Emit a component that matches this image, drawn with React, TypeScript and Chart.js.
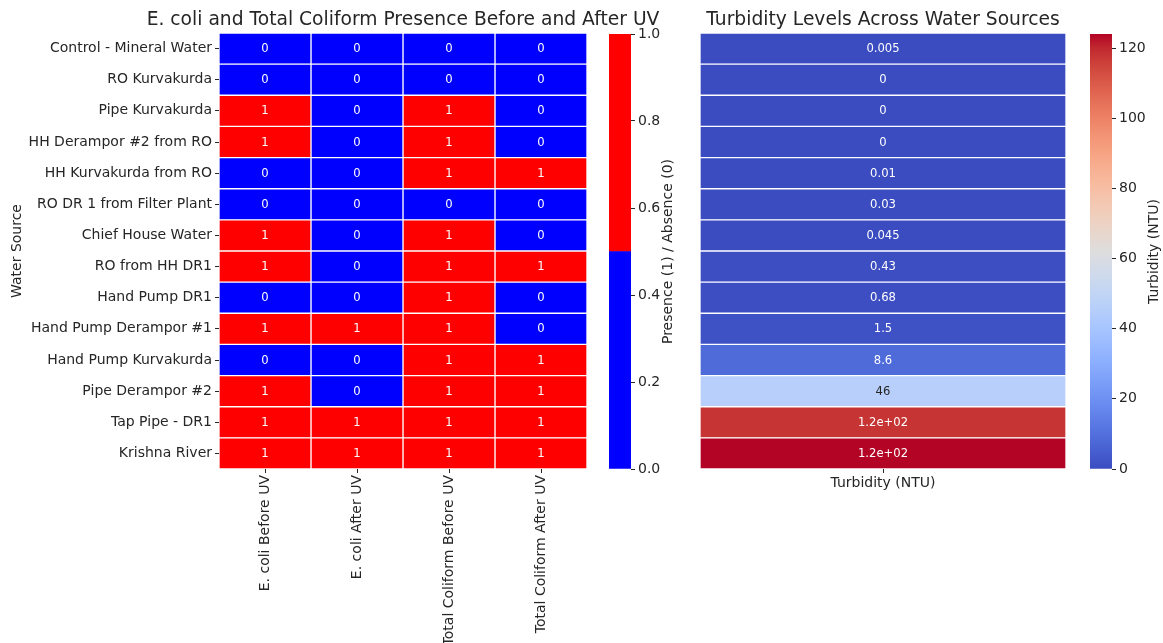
import React, { useEffect, useRef } from 'react';
import { Chart, registerables } from 'chart.js';

Chart.register(...registerables);

// ---------- data ----------
const sources = [
  'Control - Mineral Water',
  'RO Kurvakurda',
  'Pipe Kurvakurda',
  'HH Derampor #2 from RO',
  'HH Kurvakurda from RO',
  'RO DR 1 from Filter Plant',
  'Chief House Water',
  'RO from HH DR1',
  'Hand Pump DR1',
  'Hand Pump Derampor #1',
  'Hand Pump Kurvakurda',
  'Pipe Derampor #2',
  'Tap Pipe - DR1',
  'Krishna River',
];
const testColumns = ['E. coli Before UV', 'E. coli After UV', 'Total Coliform Before UV', 'Total Coliform After UV'];
const ecoliBefore = [0, 0, 1, 1, 0, 0, 1, 1, 0, 1, 0, 1, 1, 1];
const ecoliAfter = [0, 0, 0, 0, 0, 0, 0, 0, 0, 1, 0, 0, 1, 1];
const coliformBefore = [0, 0, 1, 1, 1, 0, 1, 1, 1, 1, 1, 1, 1, 1];
const coliformAfter = [0, 0, 0, 0, 1, 0, 0, 1, 0, 0, 1, 1, 1, 1];
const turbidity = [0.005, 0, 0, 0, 0.01, 0.03, 0.045, 0.43, 0.68, 1.5, 8.6, 46, 118, 124];
const turbidityLabel = 'Turbidity (NTU)';
const presenceTicks = [0, 0.2, 0.4, 0.6, 0.8, 1.0];
const turbidityTicks = [0, 20, 40, 60, 80, 100, 120];

const titleLeft = 'E. coli and Total Coliform Presence Before and After UV';
const titleRight = 'Turbidity Levels Across Water Sources';
const presenceCbarLabel = 'Presence (1) / Absence (0)';
const yAxisTitle = 'Water Source';

// ---------- style ----------
const FONT = 'DejaVu Sans';
const TEXT = '#262626';
const BLUE = '#0000ff';
const RED = '#ff0000';
const TITLE_SIZE = 18.7;
const TICK_SIZE = 14;
const CELL_SIZE = 11.6;
const COOLWARM: [number, number, number][] = [
  [59, 76, 192], [68, 90, 204], [77, 104, 215], [87, 117, 225], [98, 130, 234], [108, 142, 241],
  [119, 154, 247], [130, 165, 251], [141, 176, 254], [152, 185, 255], [163, 194, 255], [174, 201, 253],
  [184, 208, 249], [194, 213, 244], [204, 217, 238], [213, 219, 230], [221, 221, 221], [229, 216, 209],
  [236, 211, 197], [241, 204, 184], [245, 196, 172], [247, 187, 159], [247, 177, 147], [247, 166, 134],
  [244, 154, 123], [241, 141, 111], [236, 127, 99], [229, 112, 88], [222, 96, 77], [213, 80, 66],
  [203, 62, 56], [192, 40, 47], [180, 4, 38],
];

function coolwarm(t: number): [number, number, number] {
  const x = Math.max(0, Math.min(1, t)) * (COOLWARM.length - 1);
  const i = Math.min(Math.floor(x), COOLWARM.length - 2);
  const f = x - i;
  const a = COOLWARM[i], b = COOLWARM[i + 1];
  return [0, 1, 2].map((k) => Math.round(a[k] + (b[k] - a[k]) * f)) as [number, number, number];
}
const rgb = (c: [number, number, number]) => `rgb(${c[0]},${c[1]},${c[2]})`;
function luminance(c: [number, number, number]) {
  const lin = c.map((v) => {
    const s = v / 255;
    return s <= 0.03928 ? s / 12.92 : Math.pow((s + 0.055) / 1.055, 2.4);
  });
  return 0.2126 * lin[0] + 0.7152 * lin[1] + 0.0722 * lin[2];
}
function fmtG2(v: number): string {
  if (v === 0) return '0';
  const e = Math.floor(Math.log10(Math.abs(v)));
  if (e < -4 || e >= 2) {
    const s = v.toExponential(1);
    return s.replace(/e([+-])(\d)$/, 'e$10$2');
  }
  return String(parseFloat(v.toPrecision(2)));
}

const cellTextPlugin = {
  id: 'cellText',
  afterDatasetsDraw(chart: any) {
    const ctx = chart.ctx;
    ctx.save();
    ctx.font = `${CELL_SIZE}px "${FONT}"`;
    ctx.textAlign = 'center';
    ctx.textBaseline = 'middle';
    chart.data.datasets.forEach((ds: any, i: number) => {
      if (!ds.cellText) return;
      const meta = chart.getDatasetMeta(i);
      meta.data.forEach((el: any, j: number) => {
        const p = el.getCenterPoint();
        ctx.fillStyle = ds.textColor[j];
        ctx.fillText(ds.cellText[j], p.x, p.y + 0.5);
      });
    });
    ctx.restore();
  },
};

const makeTitlePlugin = (text: string) => ({
  id: 'topTitle',
  afterDraw(chart: any) {
    const { ctx, chartArea } = chart;
    ctx.save();
    ctx.font = `${TITLE_SIZE}px "${FONT}"`;
    ctx.fillStyle = TEXT;
    ctx.textAlign = 'center';
    ctx.textBaseline = 'middle';
    ctx.fillText(text, (chartArea.left + chartArea.right) / 2, 20);
    ctx.restore();
  },
});

const makeSideLabelPlugin = (text: string, offset: number) => ({
  id: 'sideLabel',
  afterDraw(chart: any) {
    const { ctx, chartArea } = chart;
    ctx.save();
    ctx.font = `${TICK_SIZE}px "${FONT}"`;
    ctx.fillStyle = TEXT;
    ctx.textAlign = 'center';
    ctx.textBaseline = 'middle';
    ctx.translate(chartArea.right + offset, (chartArea.top + chartArea.bottom) / 2);
    ctx.rotate(-Math.PI / 2);
    ctx.fillText(text, 0, 0);
    ctx.restore();
  },
});

const tickFont = { family: FONT, size: TICK_SIZE };
const tickGrid = { drawOnChartArea: false, tickLength: 4, color: TEXT, offset: false };

function useChart(ref: React.RefObject<HTMLCanvasElement>, build: () => any) {
  useEffect(() => {
    if (!ref.current) return;
    const chart = new Chart(ref.current, build());
    return () => chart.destroy();
  }, []);
}

export default function App() {
  const c1 = useRef<HTMLCanvasElement>(null);
  const c2 = useRef<HTMLCanvasElement>(null);
  const c3 = useRef<HTMLCanvasElement>(null);
  const c4 = useRef<HTMLCanvasElement>(null);

  const presence = [ecoliBefore, ecoliAfter, coliformBefore, coliformAfter];
  const turbMax = Math.max(...turbidity);

  useChart(c1, () => ({
    type: 'bar',
    data: {
      labels: sources,
      datasets: testColumns.map((name, c) => ({
        label: name,
        data: sources.map(() => [c, c + 1]),
        backgroundColor: presence[c].map((v) => (v ? RED : BLUE)),
        borderColor: '#ffffff',
        borderWidth: 1,
        borderSkipped: false,
        grouped: false,
        barPercentage: 1,
        categoryPercentage: 1,
        cellText: presence[c].map((v) => String(v)),
        textColor: presence[c].map(() => '#ffffff'),
      })),
    },
    options: {
      indexAxis: 'y',
      animation: false,
      responsive: false,
      layout: { padding: { top: 33, right: 113, left: 0, bottom: 0 } },
      plugins: { legend: { display: false }, tooltip: { enabled: false } },
      scales: {
        x: { type: 'linear', min: 0, max: testColumns.length, display: false },
        xc: {
          type: 'category',
          axis: 'x',
          labels: testColumns,
          position: 'bottom',
          offset: true,
          grid: tickGrid,
          border: { display: false },
          ticks: { minRotation: 90, maxRotation: 90, autoSkip: false, padding: 2, font: tickFont, color: TEXT },
          afterFit: (s: any) => { s.height = 174; },
        },
        y: {
          type: 'category',
          offset: true,
          grid: tickGrid,
          border: { display: false },
          ticks: { autoSkip: false, padding: 3, font: tickFont, color: TEXT },
          title: { display: true, text: yAxisTitle, font: tickFont, color: TEXT, padding: { top: 9, bottom: 4 } },
          afterFit: (s: any) => { s.width = 219; },
        },
      },
    },
    plugins: [cellTextPlugin, makeTitlePlugin(titleLeft)],
  }));

  useChart(c2, () => ({
    type: 'bar',
    data: {
      labels: [''],
      datasets: [
        { data: [[0, 0.5]], backgroundColor: BLUE },
        { data: [[0.5, 1]], backgroundColor: RED },
      ].map((d) => ({ ...d, grouped: false, barPercentage: 1, categoryPercentage: 1, borderWidth: 0 })),
    },
    options: {
      animation: false,
      responsive: false,
      layout: { padding: { top: 34, right: 0, left: 9, bottom: 174 } },
      plugins: { legend: { display: false }, tooltip: { enabled: false } },
      scales: {
        x: { display: false },
        y: {
          position: 'right',
          min: 0,
          max: 1,
          afterBuildTicks: (s: any) => { s.ticks = presenceTicks.map((v) => ({ value: v })); },
          grid: tickGrid,
          border: { display: false },
          ticks: { padding: 3, font: tickFont, color: TEXT, callback: (v: any) => Number(v).toFixed(1) },
          afterFit: (s: any) => { s.width = 69; },
        },
      },
    },
    plugins: [makeSideLabelPlugin(presenceCbarLabel, 37)],
  }));

  useChart(c3, () => {
    const cols = turbidity.map((v) => coolwarm(v / turbMax));
    return {
      type: 'bar',
      data: {
        labels: sources,
        datasets: [
          {
            label: turbidityLabel,
            data: sources.map(() => [0, 1]),
            backgroundColor: cols.map(rgb),
            borderColor: '#ffffff',
            borderWidth: 1,
            borderSkipped: false,
            grouped: false,
            barPercentage: 1,
            categoryPercentage: 1,
            cellText: turbidity.map(fmtG2),
            textColor: cols.map((c) => (luminance(c) > 0.408 ? TEXT : '#ffffff')),
          },
        ],
      },
      options: {
        indexAxis: 'y',
        animation: false,
        responsive: false,
        layout: { padding: { top: 33, right: 14, left: 0, bottom: 0 } },
        plugins: { legend: { display: false }, tooltip: { enabled: false } },
        scales: {
          x: { type: 'linear', min: 0, max: 1, display: false },
          xc: {
            type: 'category',
            axis: 'x',
            labels: [turbidityLabel],
            position: 'bottom',
            offset: true,
            grid: tickGrid,
            border: { display: false },
            ticks: { minRotation: 0, maxRotation: 0, autoSkip: false, padding: 2, font: tickFont, color: TEXT },
            afterFit: (s: any) => { s.height = 174; },
          },
          y: { type: 'category', offset: true, display: false },
        },
      },
      plugins: [cellTextPlugin, makeTitlePlugin(titleRight)],
    };
  });

  useChart(c4, () => ({
    type: 'bar',
    data: {
      labels: [''],
      datasets: [
        {
          data: [[0, turbMax]],
          grouped: false,
          barPercentage: 1,
          categoryPercentage: 1,
          borderWidth: 0,
          backgroundColor: (ctx: any) => {
            const chart = ctx.chart;
            const area = chart.chartArea;
            if (!area) return BLUE;
            const g = chart.ctx.createLinearGradient(0, area.bottom, 0, area.top);
            COOLWARM.forEach((c, i) => g.addColorStop(i / (COOLWARM.length - 1), rgb(c)));
            return g;
          },
        },
      ],
    },
    options: {
      animation: false,
      responsive: false,
      layout: { padding: { top: 34, right: 0, left: 10, bottom: 174 } },
      plugins: { legend: { display: false }, tooltip: { enabled: false } },
      scales: {
        x: { display: false },
        y: {
          position: 'right',
          min: 0,
          max: turbMax,
          afterBuildTicks: (s: any) => { s.ticks = turbidityTicks.map((v) => ({ value: v })); },
          grid: tickGrid,
          border: { display: false },
          ticks: { padding: 3, font: tickFont, color: TEXT },
          afterFit: (s: any) => { s.width = 51; },
        },
      },
    },
    plugins: [makeSideLabelPlugin(turbidityLabel, 42)],
  }));

  const abs = (left: number, width: number): React.CSSProperties => ({
    position: 'absolute', left, top: 0, width, height: 643,
  });

  return (
    <div style={{ position: 'absolute', left: 0, top: 0, width: 1163, height: 643, background: '#ffffff', overflow: 'hidden' }}>
      <canvas ref={c1} width={700} height={643} style={abs(0, 700)} />
      <canvas ref={c2} width={100} height={643} style={abs(600, 100)} />
      <canvas ref={c3} width={380} height={643} style={abs(700, 380)} />
      <canvas ref={c4} width={83} height={643} style={abs(1080, 83)} />
    </div>
  );
}
